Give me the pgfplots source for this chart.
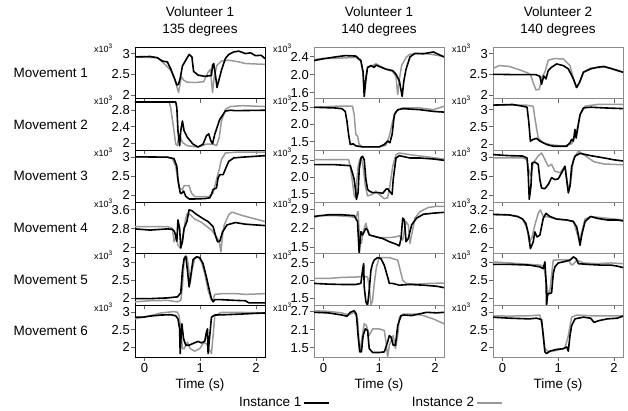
\documentclass[border=0pt]{standalone}
\usepackage{fontspec}
\setmainfont{Liberation Sans}
\usepackage{pgfplots}
\pgfplotsset{compat=1.18}
\usepgfplotslibrary{groupplots}

\pgfplotsset{
  bk/.style={black, line width=1.6pt, line join=round},
  gr/.style={black!40, line width=1.5pt, line join=round},
  cA/.style={axis line style={black, line width=0.9pt}},
  cB/.style={axis line style={black!45, line width=0.6pt}},
  xk/.style={extra description/.code={
    \node[anchor=east, inner sep=0pt, font=\fontsize{9}{10}\selectfont]
      at (-0.17,0.97) {x10\textsuperscript{\fontsize{6.5}{6.5}\selectfont 3}};}},
}

\begin{document}
\begin{tikzpicture}
\begin{groupplot}[
  group style={group size=3 by 6, horizontal sep=49pt, vertical sep=0pt,
    xticklabels at=edge bottom, xlabels at=edge bottom},
  width=130pt, height=51.67pt, scale only axis,
  xmin=-0.17, xmax=2.16, xtick={0,1,2}, xticklabels={0,1,2},
  tick align=outside, xtick pos=bottom, ytick pos=left,
  major tick length=4pt, tick style={black!60, line width=0.6pt},
  yticklabel style={font=\fontsize{13}{14}\selectfont, inner sep=1pt},
  xticklabel style={font=\fontsize{13}{14}\selectfont, inner sep=1.5pt, yshift=-1pt},
  xlabel={Time (s)}, xlabel style={font=\fontsize{13.5}{15}\selectfont, yshift=-1pt},
  ylabel style={rotate=-90, anchor=west, at={(axis description cs:-0.96,0.5)},
    font=\fontsize{13.5}{15}\selectfont},
  title style={align=center, font=\fontsize{13.5}{17.5}\selectfont, yshift=1pt},
  every axis plot/.append style={forget plot},
  xk,
]
% ---------- row 1
\nextgroupplot[cA, title={Volunteer 1\\135 degrees}, ylabel={Movement 1},
  ymin=1.91, ymax=3.16, ytick={2,2.5,3}, yticklabels={2,2.5,3}]
\addplot[gr] coordinates {(-0.17,2.92)(0.23,2.90)(0.32,2.80)(0.47,2.60)(0.54,2.39)(0.58,2.20)(0.61,2.06)(0.63,2.20)(0.66,2.45)(0.70,2.36)(0.76,2.31)(0.90,2.30)(1.06,2.32)(1.14,2.55)(1.18,2.62)(1.22,2.06)(1.25,2.45)(1.30,2.72)(1.38,2.82)(1.51,2.84)(1.69,2.80)(1.81,2.76)(2.16,2.74)};
\addplot[bk] coordinates {(-0.17,2.92)(0.10,2.93)(0.23,2.90)(0.32,2.82)(0.41,2.80)(0.47,2.63)(0.54,2.39)(0.58,2.24)(0.61,2.26)(0.64,2.40)(0.68,2.70)(0.74,2.84)(0.80,2.98)(0.85,2.92)(0.88,2.57)(0.96,2.48)(1.08,2.45)(1.20,2.47)(1.22,2.72)(1.24,2.76)(1.27,2.50)(1.30,2.18)(1.34,2.39)(1.38,2.60)(1.45,2.88)(1.51,2.98)(1.60,3.04)(1.69,3.06)(1.81,3.00)(1.90,3.02)(1.99,2.95)(2.09,2.96)(2.16,2.88)};

\nextgroupplot[cB, title={Volunteer 1\\140 degrees},
  ymin=1.47, ymax=2.61, ytick={1.6,2.0,2.4}, yticklabels={1.6,2.0,2.4}]
\addplot[gr] coordinates {(-0.17,2.33)(0,2.36)(0.21,2.36)(0.39,2.37)(0.58,2.38)(0.67,2.30)(0.71,2.05)(0.73,1.60)(0.76,1.95)(0.79,2.16)(0.85,2.18)(0.94,2.24)(1.0,2.20)(1.12,2.12)(1.24,2.07)(1.30,1.95)(1.33,1.56)(1.36,1.90)(1.40,2.20)(1.48,2.38)(1.55,2.45)(1.79,2.47)(1.97,2.44)(2.16,2.40)};
\addplot[bk] coordinates {(-0.17,2.31)(0,2.35)(0.21,2.39)(0.39,2.42)(0.58,2.41)(0.67,2.31)(0.71,2.05)(0.73,1.52)(0.76,1.90)(0.79,2.16)(0.85,2.20)(0.91,2.16)(0.94,2.21)(1.0,2.18)(1.12,2.12)(1.24,2.09)(1.30,2.01)(1.36,1.86)(1.41,1.52)(1.44,1.86)(1.48,2.12)(1.55,2.39)(1.64,2.47)(1.79,2.46)(1.97,2.50)(2.16,2.39)};

\nextgroupplot[cB, title={Volunteer 2\\140 degrees},
  ymin=1.91, ymax=3.16, ytick={2,2.5,3}, yticklabels={2,2.5,3}]
\addplot[gr] coordinates {(-0.19,2.63)(-0.06,2.71)(0.12,2.69)(0.30,2.61)(0.42,2.55)(0.50,2.50)(0.55,2.30)(0.60,2.12)(0.66,2.14)(0.71,2.45)(0.76,2.55)(0.82,2.84)(0.92,2.88)(1.09,2.87)(1.21,2.71)(1.28,2.35)(1.32,2.18)(1.38,2.30)(1.45,2.55)(1.58,2.65)(1.70,2.66)(1.82,2.67)(1.94,2.65)(2.06,2.60)(2.16,2.55)};
\addplot[bk] coordinates {(-0.19,2.50)(0.3,2.49)(0.60,2.49)(0.67,2.45)(0.70,2.26)(0.74,2.46)(0.78,2.39)(0.82,2.59)(0.88,2.67)(0.97,2.75)(1.09,2.71)(1.18,2.63)(1.27,2.39)(1.33,2.18)(1.38,2.30)(1.45,2.55)(1.58,2.63)(1.70,2.67)(1.82,2.69)(1.94,2.64)(2.06,2.59)(2.16,2.55)};

% ---------- row 2
\nextgroupplot[cA, ylabel={Movement 2},
  ymin=1.83, ymax=3.08, ytick={2,2.4,2.8}, yticklabels={2,2.4,2.8}]
\addplot[gr] coordinates {(-0.17,3.0)(0.44,3.0)(0.47,2.86)(0.52,2.38)(0.56,1.98)(0.59,1.94)(0.62,2.22)(0.68,2.02)(0.77,1.94)(0.96,1.91)(1.11,1.98)(1.23,1.98)(1.29,1.94)(1.34,2.14)(1.38,2.54)(1.45,2.82)(1.54,2.89)(1.75,2.91)(2.16,2.89)};
\addplot[bk] coordinates {(-0.17,3.0)(0.56,3.0)(0.58,2.86)(0.60,2.30)(0.63,1.94)(0.65,2.30)(0.68,2.54)(0.71,2.30)(0.77,2.14)(0.87,1.98)(0.96,1.91)(1.05,1.98)(1.11,2.18)(1.15,2.23)(1.19,2.06)(1.22,1.99)(1.26,2.22)(1.35,2.58)(1.45,2.78)(1.54,2.80)(1.63,2.79)(2.16,2.80)};

\nextgroupplot[cB,
  ymin=1.25, ymax=2.75, ytick={1.5,2.0,2.5}, yticklabels={1.5,2.0,2.5}]
\addplot[gr] coordinates {(-0.17,2.50)(0.21,2.53)(0.52,2.53)(0.55,2.29)(0.58,1.71)(0.61,1.66)(0.64,1.42)(0.70,1.35)(1.0,1.35)(1.12,1.40)(1.18,1.66)(1.24,2.10)(1.30,2.38)(1.42,2.48)(1.73,2.48)(1.97,2.43)(2.16,2.53)};
\addplot[bk] coordinates {(-0.17,2.50)(0.21,2.48)(0.33,2.46)(0.39,2.38)(0.42,2.10)(0.45,1.71)(0.48,1.42)(0.53,1.44)(0.58,1.38)(0.70,1.35)(1.0,1.35)(1.09,1.42)(1.15,1.52)(1.19,1.47)(1.23,1.71)(1.27,2.29)(1.33,2.43)(1.42,2.46)(1.73,2.43)(1.97,2.38)(2.16,2.36)};

\nextgroupplot[cB,
  ymin=1.81, ymax=3.32, ytick={2,2.5,3}, yticklabels={2,2.5,3}]
\addplot[gr] coordinates {(-0.19,3.13)(0.42,3.13)(0.55,3.10)(0.58,2.76)(0.64,2.17)(0.73,2.03)(0.85,1.98)(1.09,1.93)(1.24,2.00)(1.33,2.37)(1.39,2.85)(1.48,3.10)(1.70,3.15)(2.16,3.15)};
\addplot[bk] coordinates {(-0.19,3.13)(0.18,3.15)(0.36,3.10)(0.44,3.07)(0.47,2.66)(0.50,2.08)(0.55,2.13)(0.61,2.16)(0.67,2.08)(0.79,1.98)(0.91,1.93)(1.15,1.93)(1.21,2.03)(1.24,2.13)(1.27,2.08)(1.30,2.42)(1.32,2.17)(1.35,2.47)(1.39,2.85)(1.45,3.05)(1.58,3.07)(1.82,3.05)(2.16,3.03)};

% ---------- row 3
\nextgroupplot[cA, ylabel={Movement 3},
  ymin=1.82, ymax=3.18, ytick={2,2.5,3}, yticklabels={2,2.5,3}]
\addplot[gr] coordinates {(-0.17,3.01)(0.41,3.0)(0.50,2.96)(0.56,2.76)(0.62,2.19)(0.68,2.15)(0.71,2.25)(0.80,2.25)(0.84,2.06)(0.90,1.96)(1.08,1.96)(1.15,1.96)(1.23,2.06)(1.29,2.41)(1.34,2.68)(1.38,2.94)(1.45,3.11)(1.63,3.13)(2.16,3.13)};
\addplot[bk] coordinates {(-0.17,3.01)(0.41,3.0)(0.53,2.96)(0.58,2.76)(0.60,2.41)(0.64,2.06)(0.66,2.04)(0.70,2.11)(0.74,1.97)(0.80,1.90)(0.90,1.90)(1.08,1.91)(1.17,1.93)(1.20,2.02)(1.23,2.15)(1.29,2.19)(1.32,2.46)(1.35,2.54)(1.41,2.54)(1.46,2.72)(1.51,2.89)(1.60,2.98)(1.75,3.0)(2.16,3.04)};

\nextgroupplot[cB,
  ymin=1.25, ymax=2.80, ytick={1.5,2.0,2.5}, yticklabels={1.5,2.0,2.5}]
\addplot[gr] coordinates {(-0.17,2.52)(0.21,2.52)(0.45,2.52)(0.48,2.32)(0.53,1.73)(0.55,1.43)(0.58,1.38)(0.59,1.73)(0.62,2.32)(0.65,2.52)(0.68,2.57)(0.71,2.32)(0.75,1.73)(0.79,1.43)(0.88,1.48)(0.94,1.58)(1.03,1.43)(1.09,1.35)(1.15,1.38)(1.19,1.73)(1.24,2.32)(1.30,2.67)(1.36,2.72)(1.55,2.67)(2.16,2.54)};
\addplot[bk] coordinates {(-0.17,2.37)(0.21,2.37)(0.39,2.35)(0.48,2.34)(0.52,2.12)(0.55,1.93)(0.58,1.53)(0.59,1.33)(0.62,1.53)(0.64,2.22)(0.67,2.57)(0.70,2.62)(0.73,2.52)(0.76,1.93)(0.79,1.63)(0.82,1.58)(0.88,1.53)(1.0,1.53)(1.06,1.51)(1.12,1.63)(1.15,1.65)(1.18,1.58)(1.23,1.48)(1.25,1.93)(1.30,2.57)(1.36,2.64)(1.55,2.57)(1.73,2.57)(1.97,2.54)(2.16,2.50)};

\nextgroupplot[cB,
  ymin=1.82, ymax=3.18, ytick={2,2.5,3}, yticklabels={2,2.5,3}]
\addplot[gr] coordinates {(-0.19,2.98)(0.36,2.98)(0.44,2.94)(0.47,2.68)(0.51,2.50)(0.55,2.85)(0.64,3.03)(0.70,3.11)(0.76,2.94)(0.82,2.76)(0.88,2.81)(0.94,2.63)(1.03,2.59)(1.12,2.76)(1.18,2.15)(1.22,2.32)(1.27,2.94)(1.36,3.16)(1.45,3.07)(1.64,2.88)(1.82,2.82)(2.16,2.80)};
\addplot[bk] coordinates {(-0.19,3.07)(0.12,3.04)(0.36,3.03)(0.44,2.98)(0.46,2.59)(0.48,1.89)(0.51,2.24)(0.53,2.85)(0.58,2.87)(0.64,2.81)(0.67,2.41)(0.70,2.19)(0.76,2.17)(0.82,2.28)(0.88,2.46)(0.94,2.41)(1.0,2.43)(1.06,2.59)(1.12,2.76)(1.18,2.06)(1.21,2.24)(1.24,2.76)(1.30,3.03)(1.39,3.10)(1.58,3.04)(1.82,2.98)(2.0,2.93)(2.16,2.90)};

% ---------- row 4
\nextgroupplot[cA, ylabel={Movement 4},
  ymin=1.74, ymax=3.93, ytick={2,2.8,3.6}, yticklabels={2,2.8,3.6}]
\addplot[gr] coordinates {(-0.17,2.89)(0.10,2.89)(0.41,2.89)(0.50,2.81)(0.53,2.24)(0.56,2.46)(0.60,2.10)(0.65,1.96)(0.70,2.67)(0.74,3.24)(0.77,3.46)(0.82,3.39)(0.90,3.21)(1.02,3.07)(1.20,2.74)(1.29,2.46)(1.34,2.24)(1.37,1.81)(1.40,2.53)(1.43,2.96)(1.51,3.39)(1.57,3.50)(1.75,3.36)(1.99,3.21)(2.16,3.10)};
\addplot[bk] coordinates {(-0.17,2.79)(0.10,2.74)(0.41,2.79)(0.50,2.77)(0.54,2.67)(0.58,2.27)(0.60,3.17)(0.63,2.81)(0.65,1.99)(0.68,2.24)(0.71,2.81)(0.76,3.10)(0.80,3.60)(0.85,3.56)(0.93,3.41)(1.02,3.27)(1.14,3.10)(1.23,2.89)(1.27,2.53)(1.31,2.24)(1.35,2.27)(1.40,2.67)(1.48,2.96)(1.63,3.06)(1.81,2.99)(1.99,2.96)(2.16,2.93)};

\nextgroupplot[cB,
  ymin=1.26, ymax=3.16, ytick={1.5,2.2,2.9}, yticklabels={1.5,2.2,2.9}]
\addplot[gr] coordinates {(-0.17,2.57)(-0.09,2.66)(0.21,2.66)(0.45,2.63)(0.58,2.59)(0.62,2.81)(0.65,1.70)(0.68,1.64)(0.71,2.07)(0.76,2.38)(0.79,2.13)(0.82,1.95)(1.0,1.85)(1.18,1.85)(1.30,1.88)(1.36,1.92)(1.42,1.76)(1.48,2.44)(1.52,2.32)(1.55,1.64)(1.58,1.95)(1.64,2.57)(1.73,2.81)(1.88,2.96)(2.03,3.0)(2.16,3.0)};
\addplot[bk] coordinates {(-0.17,2.63)(0.09,2.69)(0.33,2.69)(0.55,2.66)(0.61,2.44)(0.64,1.26)(0.67,2.07)(0.70,1.95)(0.76,2.19)(0.79,2.13)(0.82,1.95)(0.94,1.88)(1.06,1.82)(1.18,1.70)(1.30,1.61)(1.36,1.55)(1.39,1.82)(1.42,2.57)(1.45,2.50)(1.48,1.70)(1.52,1.82)(1.58,2.32)(1.67,2.57)(1.79,2.71)(1.97,2.75)(2.16,2.78)};

\nextgroupplot[cB,
  ymin=1.81, ymax=3.45, ytick={2,2.6,3.2}, yticklabels={2,2.6,3.2}]
\addplot[gr] coordinates {(-0.19,3.04)(0.12,3.04)(0.27,2.99)(0.36,2.91)(0.44,2.61)(0.48,2.18)(0.53,2.34)(0.58,2.72)(0.64,3.09)(0.68,3.20)(0.73,2.99)(0.79,2.99)(0.97,2.91)(1.27,2.85)(1.33,2.50)(1.38,2.18)(1.42,2.50)(1.48,2.91)(1.58,2.99)(2.16,2.88)};
\addplot[bk] coordinates {(-0.19,3.06)(0.12,3.04)(0.27,2.99)(0.36,2.91)(0.42,2.77)(0.47,2.40)(0.50,1.97)(0.55,2.18)(0.58,2.50)(0.62,2.34)(0.67,2.40)(0.73,2.93)(0.78,3.09)(0.85,2.99)(0.97,2.91)(1.15,2.88)(1.27,2.83)(1.33,2.66)(1.36,2.40)(1.39,2.08)(1.42,2.40)(1.48,2.83)(1.58,2.99)(1.70,2.93)(1.88,2.88)(2.06,2.88)(2.16,2.85)};

% ---------- row 5
\nextgroupplot[cA, ylabel={Movement 5},
  ymin=1.79, ymax=3.25, ytick={2,2.5,3}, yticklabels={2,2.5,3}]
\addplot[gr] coordinates {(-0.17,1.89)(0.10,1.92)(0.41,1.93)(0.59,1.89)(0.65,1.93)(0.68,2.31)(0.71,3.07)(0.76,3.16)(0.79,2.88)(0.82,2.41)(0.85,2.78)(0.90,3.11)(0.96,3.16)(1.02,3.02)(1.08,2.69)(1.14,2.22)(1.20,1.93)(1.23,1.95)(1.26,2.10)(1.38,2.12)(1.63,2.12)(1.81,2.10)(2.16,2.12)};
\addplot[bk] coordinates {(-0.17,1.98)(0.10,1.98)(0.41,2.0)(0.59,2.03)(0.65,2.14)(0.68,2.78)(0.71,3.11)(0.74,3.18)(0.77,2.78)(0.80,2.31)(0.84,2.74)(0.87,3.08)(0.93,3.16)(0.99,3.14)(1.05,2.97)(1.11,2.59)(1.17,2.17)(1.20,1.98)(1.23,1.89)(1.26,1.95)(1.38,1.95)(1.63,1.93)(1.81,1.92)(1.87,1.86)(2.16,1.86)};

\nextgroupplot[cB,
  ymin=1.29, ymax=2.75, ytick={1.5,2.0,2.5}, yticklabels={1.5,2.0,2.5}]
\addplot[gr] coordinates {(-0.17,2.05)(0.09,2.05)(0.33,2.08)(0.58,2.09)(0.73,2.11)(0.79,2.09)(0.82,1.81)(0.85,1.29)(0.88,1.43)(0.91,1.91)(0.95,2.38)(1.0,2.64)(1.18,2.64)(1.24,2.61)(1.33,2.57)(1.36,2.38)(1.42,2.0)(1.48,1.91)(1.67,1.89)(1.91,1.91)(2.16,1.92)};
\addplot[bk] coordinates {(-0.17,1.91)(0.09,1.89)(0.33,1.88)(0.58,1.88)(0.67,1.91)(0.70,2.28)(0.72,2.47)(0.73,1.81)(0.76,1.39)(0.79,1.29)(0.82,1.72)(0.85,2.28)(0.88,2.47)(0.91,2.57)(0.97,2.64)(1.03,2.61)(1.09,2.42)(1.15,2.09)(1.18,1.91)(1.24,1.91)(1.36,1.86)(1.55,1.88)(1.79,1.86)(2.03,1.83)(2.16,1.79)};

\nextgroupplot[cB,
  ymin=1.80, ymax=3.25, ytick={2,2.5,3}, yticklabels={2,2.5,3}]
\addplot[gr] coordinates {(-0.19,3.02)(0.12,2.99)(0.48,2.95)(0.67,2.93)(0.74,2.90)(0.79,2.41)(0.82,2.08)(0.85,2.22)(0.91,3.07)(1.09,3.08)(1.18,3.07)(1.24,2.93)(1.28,2.97)(1.33,3.07)(1.45,2.99)(1.70,2.97)(1.94,2.99)(2.16,2.97)};
\addplot[bk] coordinates {(-0.19,2.95)(0.12,2.95)(0.48,2.93)(0.67,2.88)(0.73,2.83)(0.76,3.02)(0.78,2.50)(0.79,1.80)(0.81,2.13)(0.84,2.13)(0.88,2.15)(0.91,2.69)(0.94,2.88)(1.0,2.99)(1.09,3.02)(1.21,3.07)(1.27,3.16)(1.32,3.11)(1.36,2.97)(1.52,2.95)(1.76,2.93)(1.94,2.93)(2.06,2.90)(2.16,2.86)};

% ---------- row 6
\nextgroupplot[cA, ylabel={Movement 6},
  ymin=1.71, ymax=3.20, ytick={2,2.5,3}, yticklabels={2,2.5,3}]
\addplot[gr] coordinates {(-0.17,2.81)(0.10,2.90)(0.29,2.98)(0.53,3.02)(0.59,3.0)(0.62,2.90)(0.65,2.52)(0.68,1.95)(0.71,1.95)(0.77,2.14)(0.82,1.95)(0.90,1.88)(0.99,1.95)(1.05,2.10)(1.11,2.10)(1.15,1.95)(1.20,1.81)(1.23,2.33)(1.26,2.90)(1.38,3.0)(1.63,3.0)(2.16,2.98)};
\addplot[bk] coordinates {(-0.17,2.86)(-0.02,2.86)(0.10,2.89)(0.29,2.92)(0.47,2.93)(0.56,2.90)(0.60,2.81)(0.63,2.52)(0.64,1.81)(0.65,2.14)(0.67,2.67)(0.70,2.24)(0.74,2.05)(0.80,2.05)(0.87,2.10)(0.96,2.16)(1.02,2.12)(1.08,2.16)(1.11,2.43)(1.13,2.52)(1.14,1.81)(1.17,2.33)(1.20,2.86)(1.26,2.92)(1.45,2.93)(1.75,2.95)(1.99,2.97)(2.16,2.98)};

\nextgroupplot[cB,
  ymin=1.19, ymax=2.90, ytick={1.5,2.1,2.7}, yticklabels={1.5,2.1,2.7},
  legend plot pos=right,
  legend image code/.code={\draw[#1] (2pt,0pt) -- (27pt,0pt);},
  legend style={draw=none, fill=none, legend columns=2, anchor=center,
    at={(0.43,-0.89)}, font=\fontsize{13.5}{15}\selectfont,
    /tikz/every even column/.append style={column sep=80pt}}]
\addlegendimage{bk}\addlegendentry{Instance 1}
\addlegendimage{gr}\addlegendentry{Instance 2}
\addplot[gr] coordinates {(-0.17,2.72)(0.09,2.70)(0.33,2.65)(0.45,2.58)(0.55,2.67)(0.61,2.45)(0.65,1.36)(0.68,1.69)(0.73,2.29)(0.77,2.23)(0.82,1.90)(0.88,2.12)(1.0,2.12)(1.09,2.07)(1.12,1.69)(1.15,1.19)(1.18,1.58)(1.23,1.79)(1.25,1.90)(1.29,1.47)(1.33,1.90)(1.36,2.50)(1.42,2.61)(1.65,2.61)(1.79,2.56)(1.97,2.45)(2.16,2.29)};
\addplot[bk] coordinates {(-0.17,2.67)(0.09,2.65)(0.33,2.58)(0.42,2.54)(0.48,2.67)(0.55,2.72)(0.59,2.61)(0.62,1.90)(0.65,1.36)(0.68,1.36)(0.71,1.90)(0.75,2.12)(0.79,2.07)(0.82,1.47)(0.88,1.34)(1.0,1.34)(1.09,1.36)(1.15,1.69)(1.18,1.90)(1.21,1.85)(1.25,1.58)(1.29,1.58)(1.33,2.23)(1.39,2.56)(1.45,2.58)(1.58,2.56)(1.70,2.61)(1.85,2.67)(2.03,2.65)(2.16,2.67)};

\nextgroupplot[cB,
  ymin=1.71, ymax=3.20, ytick={2,2.5,3}, yticklabels={2,2.5,3}]
\addplot[gr] coordinates {(-0.19,2.90)(0.12,2.89)(0.48,2.90)(0.67,2.92)(0.72,2.52)(0.76,1.95)(0.82,1.86)(0.97,1.90)(1.12,1.97)(1.18,2.33)(1.24,2.86)(1.33,2.92)(1.58,2.90)(2.16,2.90)};
\addplot[bk] coordinates {(-0.19,2.86)(0.12,2.83)(0.48,2.81)(0.61,2.83)(0.70,2.79)(0.73,2.33)(0.76,1.86)(0.79,1.81)(0.85,1.88)(0.97,1.93)(1.09,1.95)(1.15,2.0)(1.18,1.88)(1.21,2.33)(1.24,2.62)(1.30,2.81)(1.45,2.86)(1.58,2.83)(1.64,2.71)(1.73,2.76)(1.88,2.81)(2.06,2.83)(2.16,2.89)};
\end{groupplot}
\pgfresetboundingbox
\path[use as bounding box] (group c1r1.north west) ++(-135pt,47pt) rectangle ++(628pt,-411pt);
\end{tikzpicture}
\end{document}
